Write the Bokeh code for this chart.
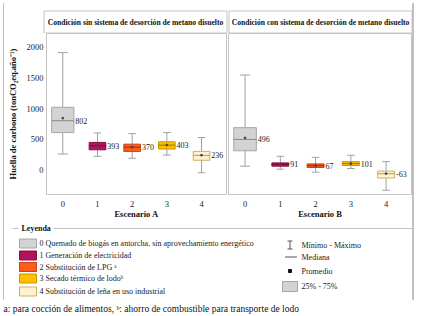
from bokeh.plotting import figure
from bokeh.layouts import row, column
from bokeh.models import Range1d, FixedTicker, ColumnDataSource
from bokeh.core.properties import value
from bokeh.embed import file_html
from bokeh.resources import INLINE

FONT = "Liberation Serif"

# ---------------- data ----------------
scenarios = [0, 1, 2, 3, 4]
panel_titles = ["Condición sin sistema de desorción de metano disuelto",
                "Condición con sistema de desorción de metano disuelto"]
axis_titles = ["Escenario A", "Escenario B"]
y_title = "Huella de carbono (tonCO₂eq.año⁻¹)"
y_ticks = [0, 500, 1000, 1500, 2000]

min_A = [258, 221, 188, 242, -48]
q1_A = [608, 327, 301, 339, 156]
med_A = [802, 393, 370, 403, 236]
q3_A = [1021, 447, 419, 457, 301]
max_A = [1914, 602, 592, 608, 527]
mean_A = [844, 396, 372, 405, 238]

min_B = [60, 11, -38, 21, -334]
q1_B = [311, 60, 38, 70, -134]
med_B = [496, 91, 67, 101, -63]
q3_B = [688, 113, 97, 134, -21]
max_B = [1548, 221, 204, 237, 134]
mean_B = [521, 92, 68, 102, -62]

legend_labels = ["0 Quemado de biogás en antorcha, sin aprovechamiento energético",
                 "1 Generación de electricidad",
                 "2 Substitución de LPG ᵃ",
                 "3 Secado térmico de lodoᵇ",
                 "4 Substitución de leña en uso industrial"]
stat_labels = ["Mínimo - Máximo", "Mediana", "Promedio", "25% - 75%"]
legend_title = "Leyenda"
footnote = "a: para cocción de alimentos, ᵇ: ahorro de combustible para transporte de lodo"

# ---------------- styles ----------------
fills = ["#d3d3d3", "#b5125c", "#ff5b1c", "#ffc000", "#fff2cc"]
edges = ["#a6a6a6", "#8a0c45", "#c8430f", "#c89600", "#c9b06a"]
med_cols = ["#8a8a8a", "#6e0836", "#9a3208", "#9a7400", "#b89a50"]
box_w = [0.64, 0.48, 0.48, 0.48, 0.48]
BORDER = "#c4c4c4"
FRAME = "#c0c0c0"
WHISK = "#a0a0a0"

yr = Range1d(-403, 2226)


def pixel_fig(w, h):
    f = figure(width=w, height=h, x_range=Range1d(0, w), y_range=Range1d(h, 0),
               toolbar_location=None, output_backend="svg", min_border=0,
               x_axis_location=None, y_axis_location=None)
    f.grid.visible = False
    f.outline_line_color = None
    return f


def frame_line(w, h, left=0, right=0, top=0, bottom=0):
    f = figure(width=w, height=h, x_range=Range1d(0, 1), y_range=Range1d(0, 1),
               toolbar_location=None, output_backend="svg",
               min_border_left=left, min_border_right=right,
               min_border_top=top, min_border_bottom=bottom,
               x_axis_location=None, y_axis_location=None)
    f.grid.visible = False
    f.outline_line_color = FRAME
    f.outline_line_width = 1
    f.background_fill_color = FRAME
    return f


def style_axis(ax):
    ax.axis_label_text_font = FONT
    ax.axis_label_text_font_style = "bold"
    ax.axis_label_text_font_size = "8.5px"
    ax.axis_label_text_color = "#111"
    ax.major_label_text_font = FONT
    ax.major_label_text_font_size = "8.5px"
    ax.major_label_text_color = "#222"
    ax.axis_line_color = None
    ax.major_tick_line_color = None
    ax.minor_tick_line_color = None
    ax.major_tick_out = 0
    ax.major_tick_in = 0
    ax.minor_tick_out = 0
    ax.minor_tick_in = 0


def make_panel(width, left, right, xtitle, show_y, lo, q1, med, q3, hi, mean):
    p = figure(width=width, height=188, x_range=Range1d(-0.47, 4.72), y_range=yr,
               toolbar_location=None, output_backend="svg",
               min_border_left=left, min_border_right=right,
               min_border_top=0, min_border_bottom=25,
               y_axis_location="left" if show_y else None)
    p.grid.visible = False
    p.outline_line_color = BORDER
    cw = [w * 0.45 for w in box_w]
    src = ColumnDataSource(dict(
        x=scenarios, lo=lo, q1=q1, med=med, q3=q3, hi=hi, mean=mean,
        w=box_w,
        cl=[x - c / 2 for x, c in zip(scenarios, cw)],
        cr=[x + c / 2 for x, c in zip(scenarios, cw)],
        bl=[x - w / 2 for x, w in zip(scenarios, box_w)],
        br=[x + w / 2 for x, w in zip(scenarios, box_w)],
        lx=[x + w / 2 + 0.04 for x, w in zip(scenarios, box_w)],
        lab=[str(v) for v in med],
        fill=fills, edge=edges, mc=med_cols))
    p.segment(x0="x", y0="lo", x1="x", y1="hi", line_color=WHISK, line_width=1, source=src)
    p.segment(x0="cl", y0="hi", x1="cr", y1="hi", line_color=WHISK, line_width=1, source=src)
    p.segment(x0="cl", y0="lo", x1="cr", y1="lo", line_color=WHISK, line_width=1, source=src)
    p.vbar(x="x", width="w", bottom="q1", top="q3", fill_color="fill",
           line_color="edge", line_width=1, source=src)
    p.segment(x0="bl", y0="med", x1="br", y1="med", line_color="mc", line_width=1, source=src)
    p.scatter(x="x", y="mean", marker="square", size=1.5, color="#444444", source=src)
    p.text(x="lx", y="med", text="lab", text_font=value(FONT), text_font_size="8px",
           text_align="left", text_baseline="middle", text_color="#222222", source=src)

    ax = p.xaxis[0]
    style_axis(ax)
    ax.ticker = FixedTicker(ticks=scenarios)
    ax.axis_label = xtitle
    ax.axis_label_standoff = -1
    ax.major_label_standoff = 6
    if show_y:
        ay = p.yaxis[0]
        style_axis(ay)
        ay.ticker = FixedTicker(ticks=y_ticks)
        ay.axis_label = y_title
        ay.axis_label_standoff = 6
        ay.major_label_standoff = 3
    return p


IW = 408   # inner width (page x 4..412)

# ---------------- header strip (layout pixels, page x = x + 4, page y = y + 4) ----------------
HH = 29
hdr = pixel_fig(IW, HH)
hdr.quad(left=[39.5, 224.5], right=[222.5, 407.5], top=[6.5, 6.5], bottom=[28.5, 28.5],
         fill_color="white", line_color=BORDER, line_width=1)
hdr.text(x=[131, 316], y=[17.5, 17.5], text=panel_titles, text_font=value(FONT),
         text_font_size="7.6px", text_font_style="bold",
         text_align="center", text_baseline="middle", text_color="#111")

pA = make_panel(223, 39, 1, axis_titles[0], True, min_A, q1_A, med_A, q3_A, max_A, mean_A)
pB = make_panel(185, 1, 1, axis_titles[1], False, min_B, q1_B, med_B, q3_B, max_B, mean_B)

# ---------------- legend block (layout pixels, page x = x + 4, page y = y + 221) ----------------
LH = 77
leg = pixel_fig(IW, LH)
leg.segment(x0=[8, 49], y0=[7, 7], x1=[14, IW], y1=[7, 7], line_color=BORDER, line_width=1)
leg.text(x=[17], y=[7], text=[legend_title], text_font=value(FONT), text_font_size="8px",
         text_font_style="bold", text_baseline="middle", text_color="#111")

rows = [22, 34, 45.5, 57, 70]
leg.quad(left=15, right=32, top=[r - 4.5 for r in rows], bottom=[r + 4.5 for r in rows],
         fill_color=fills, line_color=edges, line_width=1)
leg.text(x=35, y=rows, text=legend_labels, text_font=value(FONT), text_font_size="8px",
         text_baseline="middle", text_color="#222")

srows = [23.5, 35.5, 49.5, 65]
sx = 285.5
leg.segment(x0=[sx, sx - 2.5, sx - 2.5, sx - 5], y0=[srows[0] - 4, srows[0] - 4, srows[0] + 4, srows[1]],
            x1=[sx, sx + 2.5, sx + 2.5, sx + 7], y1=[srows[0] + 4, srows[0] - 4, srows[0] + 4, srows[1]],
            line_color="#555", line_width=1)
leg.scatter(x=[sx], y=[srows[2]], marker="square", size=3, color="#111")
leg.quad(left=[278], right=[293], top=[srows[3] - 5], bottom=[srows[3] + 5],
         fill_color=fills[0], line_color=edges[0])
leg.text(x=297, y=srows, text=stat_labels, text_font=value(FONT), text_font_size="8px",
         text_baseline="middle", text_color="#222")

# ---------------- outer frame (thin figures whose outline is the frame line) ----------------
SH = 4 + HH + 188 + LH + 4
tline = frame_line(IW, 4, top=3)
bline = frame_line(IW, 4, bottom=3)
lline = frame_line(4, SH, left=3, top=3, bottom=3)
rline = frame_line(4, SH, right=3, top=3, bottom=3)

# ---------------- footnote ----------------
FW, FH = 416, 13
foot = pixel_fig(FW, FH)
foot.text(x=[3], y=[6], text=[footnote], text_font=value(FONT), text_font_size="9.5px",
          text_baseline="middle", text_color="#111")

inner = column(tline, hdr, row(pA, pB), leg, bline)
layout = column(row(lline, inner, rline), foot)

open("out.html", "w").write(file_html(layout, INLINE))
